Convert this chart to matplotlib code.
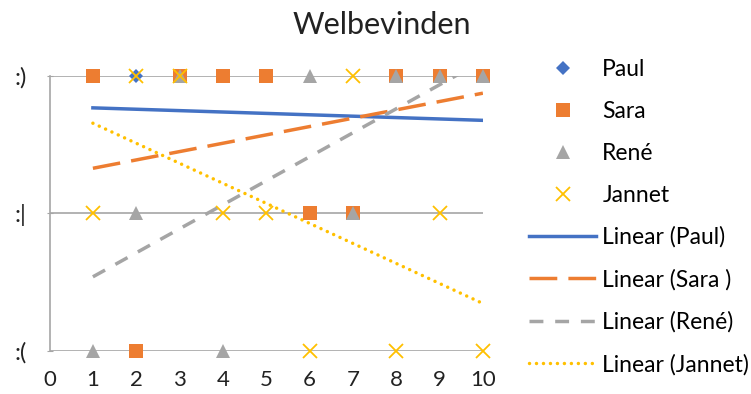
import numpy as np
import matplotlib
matplotlib.use('Agg')
import matplotlib.pyplot as plt
from matplotlib.lines import Line2D

plt.rcParams['font.family'] = ['Lato', 'DejaVu Sans']

# dag 1..10, score 1 = :(  2 = :|  3 = :)
dagen = [1, 2, 3, 4, 5, 6, 7, 8, 9, 10]
paul = [3, 3, None, None, None, 2, 2, 3, 3, 3]
sara = [3, 1, 3, 3, 3, 2, 2, 3, 3, 3]
rene = [1, 2, 3, 1, None, 3, 2, 3, 3, 3]
jannet = [2, 3, 3, 2, 2, 1, 3, 1, 2, 1]

ytick_labels = [':(', ':|', ':)']
namen = ['Paul', 'Sara', 'René', 'Jannet']
trendnamen = ['Linear (Paul)', 'Linear (Sara )', 'Linear (René)', 'Linear (Jannet)']
kleuren = ['#4472C4', '#ED7D31', '#A5A5A5', '#FFC000']

fig = plt.figure(figsize=(7.51, 3.94), dpi=100)
ax = fig.add_axes([0.066, 0.109, 0.577, 0.699])

markers = [('D', 7), ('s', 10), ('^', 10), ('x', 10)]
dashes = [None, (8, 3.2), (4, 3.4), (0.01, 2)]

series = [paul, sara, rene, jannet]
handles_m = []
handles_l = []
for i, s in enumerate(series):
    x = np.array(dagen, dtype=float)
    y = np.array([np.nan if v is None else v for v in s], dtype=float)
    ok = ~np.isnan(y)
    m, ms = markers[i]
    ax.plot(x[ok], y[ok], linestyle='none', marker=m, markersize=ms,
            color=kleuren[i], markeredgewidth=1.3 if m == 'x' else 0,
            zorder=5 + i, clip_on=False)
    # lineaire trendlijn over het bereik van de data
    a, b = np.polyfit(x[ok], y[ok], 1)
    xs = np.array([x[ok].min(), x[ok].max()])
    ln, = ax.plot(xs, a * xs + b, color=kleuren[i], lw=2.5, zorder=3)
    if dashes[i] is not None:
        ln.set_dashes(dashes[i])
        if i == 3:
            ln.set_dash_capstyle('round')
    handles_m.append(Line2D([], [], linestyle='none', marker=m, markersize=ms,
                            color=kleuren[i], markeredgewidth=1.3 if m == 'x' else 0))
    hl = Line2D([], [], color=kleuren[i], lw=2.5)
    if dashes[i] is not None:
        hl.set_dashes(dashes[i])
        if i == 3:
            hl.set_dash_capstyle('round')
    handles_l.append(hl)

ax.set_xlim(0, 10)
ax.set_ylim(1, 3)
ax.set_xticks(range(0, 11))
ax.set_yticks([1, 2, 3])
ax.set_yticklabels(ytick_labels)
ax.tick_params(axis='x', length=0, labelsize=16, pad=14, colors='#222222')
ax.tick_params(axis='y', length=5, direction='inout', color='#A6A6A6',
               labelsize=17, pad=14, colors='#222222')
ax.tick_params(axis='y', colors='#A6A6A6', labelcolor='#222222')
ax.grid(axis='y', color='#A6A6A6', lw=1.2, zorder=0)
for k in ['top', 'right', 'bottom']:
    ax.spines[k].set_visible(False)
ax.spines['left'].set_color('#A6A6A6')
ax.spines['left'].set_linewidth(1.2)

fig.text(0.509, 0.937, 'Welbevinden', ha='center', va='center', fontsize=22, color='#222222')

fig.legend(handles_m + handles_l, namen + trendnamen, loc='upper left',
           bbox_to_anchor=(0.705, 0.85), frameon=False, fontsize=16.5,
           handlelength=2.9, handletextpad=0.28, labelspacing=0.91,
           borderpad=0, borderaxespad=0)

fig.savefig('out.png', dpi=100)
